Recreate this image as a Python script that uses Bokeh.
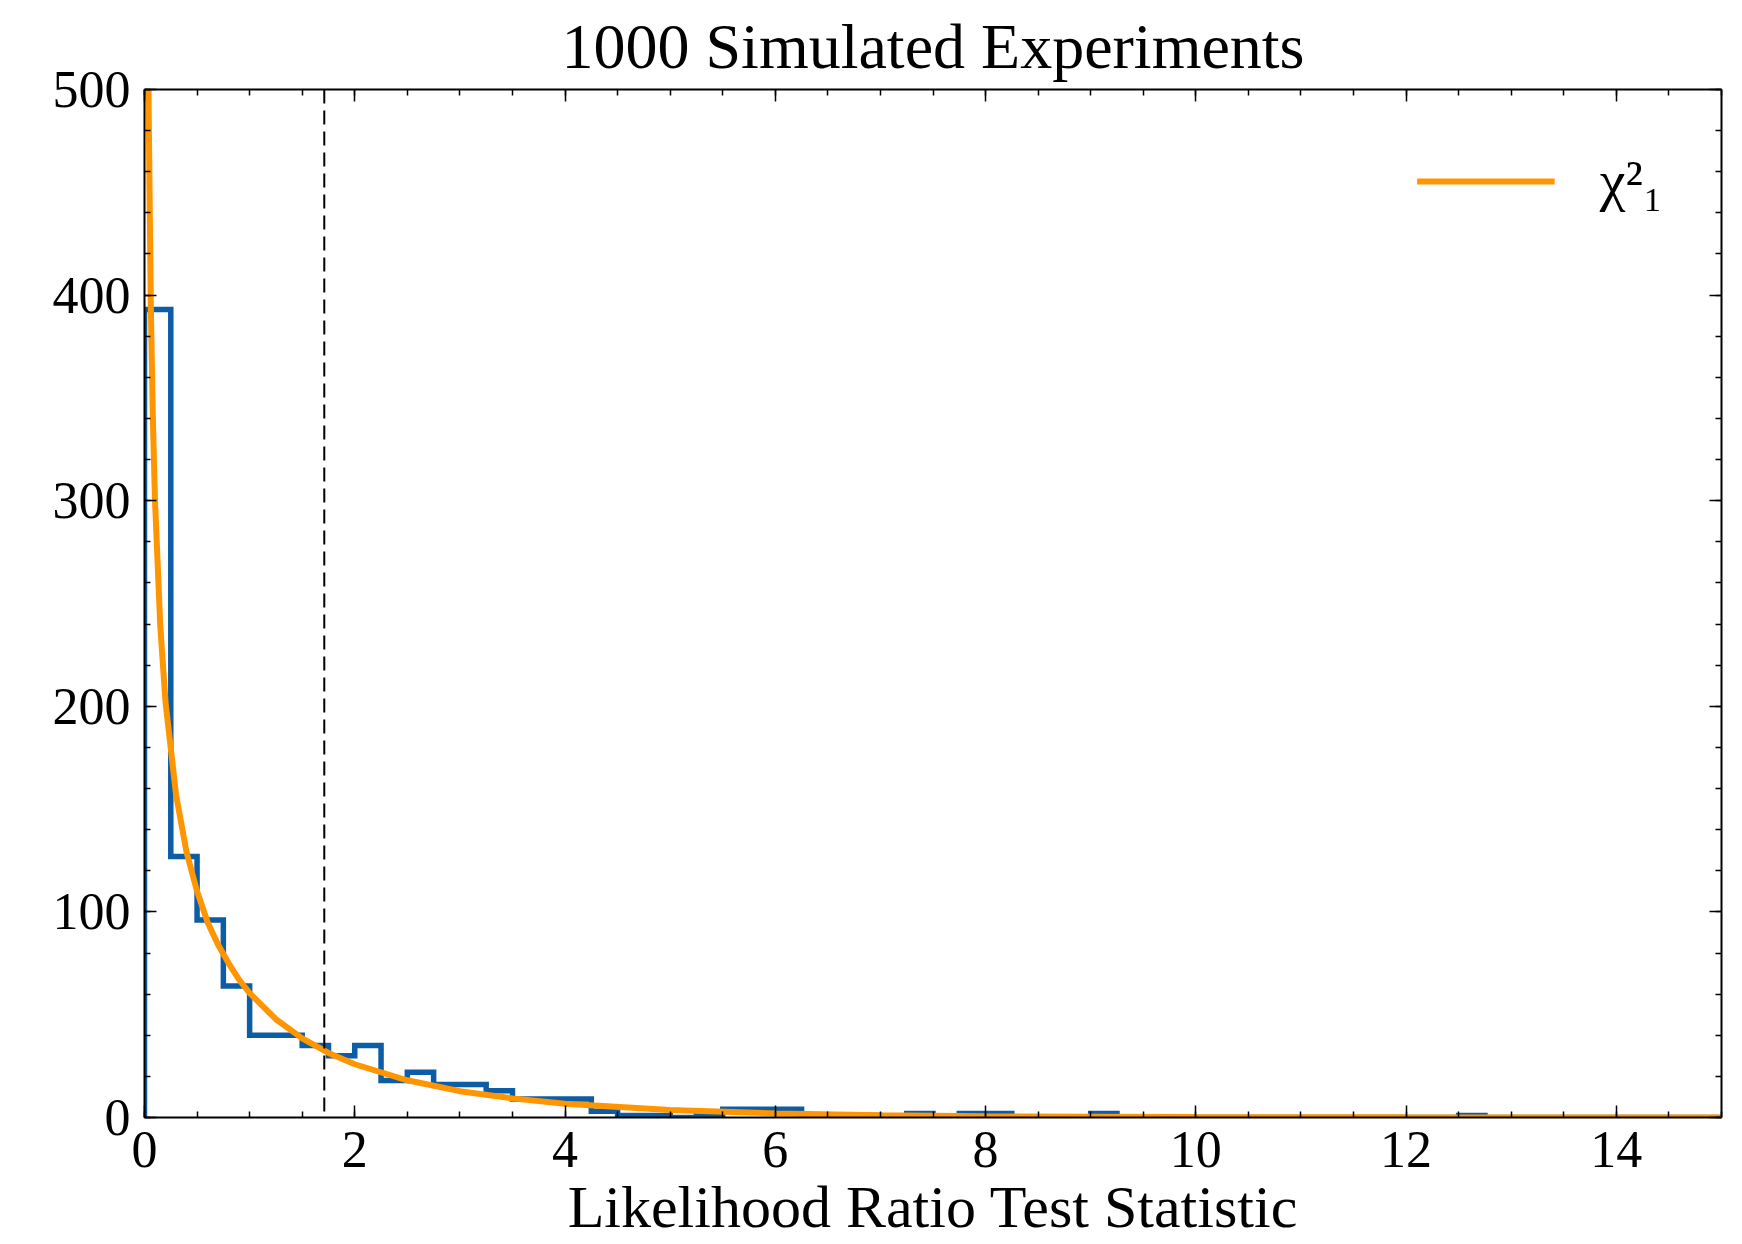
import numpy as np
from bokeh.plotting import figure
from bokeh.models import (Range1d, LinearAxis, Span, Legend, LegendItem,
                          SingleIntervalTicker)
from bokeh.embed import file_html
from bokeh.resources import INLINE

# ---------------- data ----------------
bin_width = 0.25
hist_counts = [393, 127, 96, 64, 40, 40, 35, 30, 35, 18,
               22, 16, 16, 13, 9, 9, 9, 3, 1, 1,
               0, 1, 4, 4, 4, 1, 0, 1, 0, 2,
               0, 2, 2, 0, 0, 0, 2, 0, 0, 0,
               0, 0, 0, 0, 0, 0, 0, 0, 0, 0,
               1, 0, 0, 0, 0, 0, 0, 0, 0, 0]

chi2_x = [0.005, 0.01, 0.02, 0.03, 0.04, 0.06, 0.08, 0.1, 0.15, 0.2,
          0.3, 0.4, 0.5, 0.6, 0.7, 0.8, 0.9, 1.0, 1.25, 1.5, 1.75, 2.0,
          2.5, 3.0, 3.5, 4.0, 5.0, 6.0, 7.0, 8.0, 10.0, 12.0, 15.0]
chi2_y = [1407, 992, 698, 567, 489, 395, 339, 300, 239, 202,
          157, 129, 110, 95, 84, 75, 67, 60.5, 47.8, 38.5, 31.4, 25.9,
          18.1, 12.8, 9.3, 6.7, 3.7, 2.0, 1.1, 0.6, 0.2, 0.07, 0.01]

observed_stat = 1.71

title_text = "1000 Simulated Experiments"
x_label = "Likelihood Ratio Test Statistic"
legend_label = "χ²₁"

BLUE = "#0C5DA5"
ORANGE = "#FF9500"
FONT = "Liberation Serif"

# ---------------- build step outline ----------------
counts = np.array(hist_counts, dtype=float)
edges = np.arange(len(counts) + 1) * bin_width
step_x = np.repeat(edges, 2)
step_y = np.concatenate([[0.0], np.repeat(counts, 2), [0.0]])

# ---------------- figure ----------------
p = figure(frame_width=1577, frame_height=1028,
           x_range=Range1d(0, 15), y_range=Range1d(0, 500),
           output_backend="svg", toolbar_location=None,
           min_border_left=144, min_border_right=8,
           min_border_top=89, min_border_bottom=0,
           x_axis_location=None, y_axis_location=None)
p.background_fill_color = "white"
p.border_fill_color = "white"
p.outline_line_color = None
p.xgrid.grid_line_color = None
p.ygrid.grid_line_color = None

xt = SingleIntervalTicker(interval=2, num_minor_ticks=4)
yt = SingleIntervalTicker(interval=100, num_minor_ticks=5)


def style(ax, labels=True):
    ax.axis_line_width = 2
    ax.axis_line_color = "black"
    ax.major_tick_in = 12
    ax.major_tick_out = 0
    ax.minor_tick_in = 6
    ax.minor_tick_out = 0
    ax.major_tick_line_width = 1.5
    ax.minor_tick_line_width = 1.5
    ax.major_tick_line_color = "black"
    ax.minor_tick_line_color = "black"
    ax.major_label_text_font = FONT
    if labels:
        ax.major_label_text_color = "black"
        ax.major_label_text_font_size = "52px"
        ax.major_label_standoff = 12
    else:
        ax.major_label_text_color = None
        ax.major_label_text_font_size = "1px"
        ax.major_label_standoff = 0


xb = LinearAxis(ticker=xt, axis_label=x_label)
style(xb)
xb.major_label_standoff = 14
xb.axis_label_text_font = FONT
xb.axis_label_text_font_size = "60px"
xb.axis_label_text_font_style = "normal"
xb.axis_label_text_color = "black"
xb.axis_label_standoff = 4
p.add_layout(xb, "below")

yl = LinearAxis(ticker=yt)
style(yl)
yl.major_label_standoff = 14
p.add_layout(yl, "left")

xa = LinearAxis(ticker=xt)
style(xa, labels=False)
p.add_layout(xa, "above")

yr = LinearAxis(ticker=yt)
style(yr, labels=False)
p.add_layout(yr, "right")

p.title.text = title_text
p.title.align = "center"
p.title.text_font = FONT
p.title.text_font_size = "64px"
p.title.text_font_style = "normal"
p.title.text_color = "black"
p.title.standoff = 15

# histogram (step outline)
p.line(step_x, step_y, line_color=BLUE, line_width=5.5, line_join="miter")

# observed value
span = Span(location=observed_stat, dimension="height", line_color="black",
            line_width=2, line_dash="14 7")
p.add_layout(span)

# chi2 curve
curve = p.line(chi2_x, chi2_y, line_color=ORANGE, line_width=6)

legend = Legend(items=[LegendItem(label=legend_label, renderers=[curve])],
                location="top_right")
legend.border_line_color = None
legend.background_fill_alpha = 0
legend.label_text_font = FONT
legend.label_text_font_size = "58px"
legend.label_text_color = "black"
legend.glyph_width = 138
legend.glyph_height = 40
legend.label_standoff = 45
legend.padding = 0
legend.margin = 58
p.add_layout(legend)

open("out.html", "w").write(file_html(p, INLINE))
